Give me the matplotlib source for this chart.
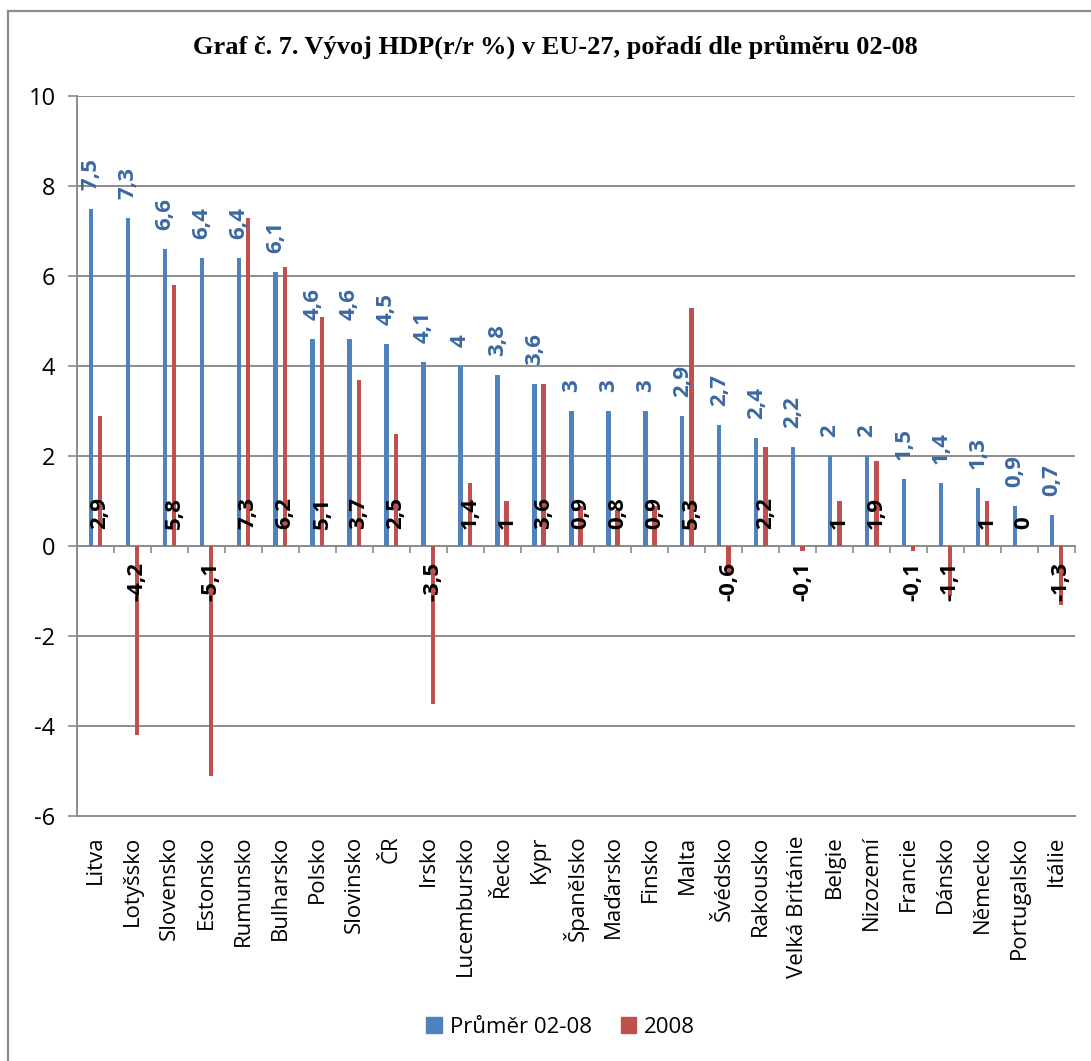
import matplotlib
matplotlib.use("Agg")
import matplotlib.pyplot as plt
from matplotlib.lines import Line2D
from matplotlib.patches import Patch
import numpy as np

plt.rcParams['font.family'] = ['Open Sans', 'DejaVu Sans']
plt.rcParams['axes.unicode_minus'] = False

countries = ["Litva", "Lotyšsko", "Slovensko", "Estonsko", "Rumunsko", "Bulharsko",
             "Polsko", "Slovinsko", "ČR", "Irsko", "Lucembursko", "Řecko", "Kypr",
             "Španělsko", "Maďarsko", "Finsko", "Malta", "Švédsko", "Rakousko",
             "Velká Británie", "Belgie", "Nizozemí", "Francie", "Dánsko", "Německo",
             "Portugalsko", "Itálie"]
avg_02_08 = [7.5, 7.3, 6.6, 6.4, 6.4, 6.1, 4.6, 4.6, 4.5, 4.1, 4, 3.8, 3.6,
             3, 3, 3, 2.9, 2.7, 2.4, 2.2, 2, 2, 1.5, 1.4, 1.3, 0.9, 0.7]
y2008 = [2.9, -4.2, 5.8, -5.1, 7.3, 6.2, 5.1, 3.7, 2.5, -3.5, 1.4, 1, 3.6,
         0.9, 0.8, 0.9, 5.3, -0.6, 2.2, -0.1, 1, 1.9, -0.1, -1.1, 1, 0, -1.3]
series_names = ["Průměr 02-08", "2008"]
yticks = [-6, -4, -2, 0, 2, 4, 6, 8, 10]

BLUE = "#4F81BD"
RED = "#C0504D"
BLUE_TXT = "#3B68A3"
GRID = "#8C8C8C"


def fmt(v):
    return f"{v:g}".replace(".", ",")


fig = plt.figure(figsize=(10.91, 10.61), dpi=100)
ax = fig.add_axes([0.0706, 0.2309, 0.9147, 0.6786])

x = np.arange(len(countries))
w = 0.12
dx = 0.125
ax.bar(x - dx, avg_02_08, width=w, color=BLUE, zorder=3)
ax.bar(x + dx, y2008, width=w, color=RED, zorder=3)

ax.set_xlim(-0.5, len(countries) - 0.5)
ax.set_ylim(-6, 10)
ax.set_yticks(yticks)
ax.set_yticklabels([str(t) for t in yticks])
ax.yaxis.grid(True, color=GRID, linewidth=1.4, zorder=0)
ax.set_axisbelow(True)

for s in ["top", "right"]:
    ax.spines[s].set_visible(False)
ax.spines["left"].set_color(GRID)
ax.spines["left"].set_linewidth(1.4)
ax.spines["bottom"].set_color(GRID)
ax.spines["bottom"].set_linewidth(1.4)

ax.tick_params(axis="y", direction="out", length=6.5, width=1.2, color=GRID,
               labelsize=17, pad=9)
ax.set_xticks(x)
ax.set_xticklabels(countries, rotation=90, fontsize=16, va="top", ha="center")
ax.tick_params(axis="x", length=0, pad=14)

# zero line with category boundary ticks
sec = ax.secondary_xaxis(0, transform=ax.transData)
sec.set_xticks(np.arange(len(countries) + 1) - 0.5)
sec.set_xticklabels([])
sec.tick_params(axis="x", direction="out", length=5, width=1.2, color=GRID)
sec.spines["bottom"].set_color(GRID)
sec.spines["bottom"].set_linewidth(1.4)

# value labels
for xi, v in zip(x, avg_02_08):
    ax.annotate(fmt(v), (xi - dx, v), xytext=(0, 13.5), textcoords="offset points",
                rotation=90, ha="center", va="bottom", fontsize=16,
                fontweight="bold", color=BLUE_TXT, zorder=5)
for xi, v in zip(x, y2008):
    if v >= 0:
        off, va = 12, "bottom"
    else:
        off, va = -11.5, "top"
    ax.annotate(fmt(v), (xi + dx, 0), xytext=(0, off), textcoords="offset points",
                rotation=90, ha="center", va=va, fontsize=16,
                fontweight="bold", color="black", zorder=5)

fig.text(0.509, 0.956, "Graf č. 7. Vývoj HDP(r/r %) v EU-27, pořadí dle průměru 02-08",
         ha="center", va="center", fontsize=19, fontweight="bold",
         family=["Liberation Serif", "DejaVu Serif"])

handles = [Patch(color=BLUE), Patch(color=RED)]
fig.legend(handles, series_names, loc="center", bbox_to_anchor=(0.514, 0.032),
           ncol=2, frameon=False, fontsize=16, handlelength=0.7, handleheight=0.7,
           handletextpad=0.35, columnspacing=1.3)

# chart frame
fig.add_artist(Line2D([8 / 1091, 8 / 1091], [0, 1 - 11 / 1061], color=GRID, lw=1.6))
fig.add_artist(Line2D([8 / 1091, 1], [1 - 11 / 1061, 1 - 11 / 1061], color=GRID, lw=1.6))

fig.savefig("out.png", dpi=100, facecolor="white")
